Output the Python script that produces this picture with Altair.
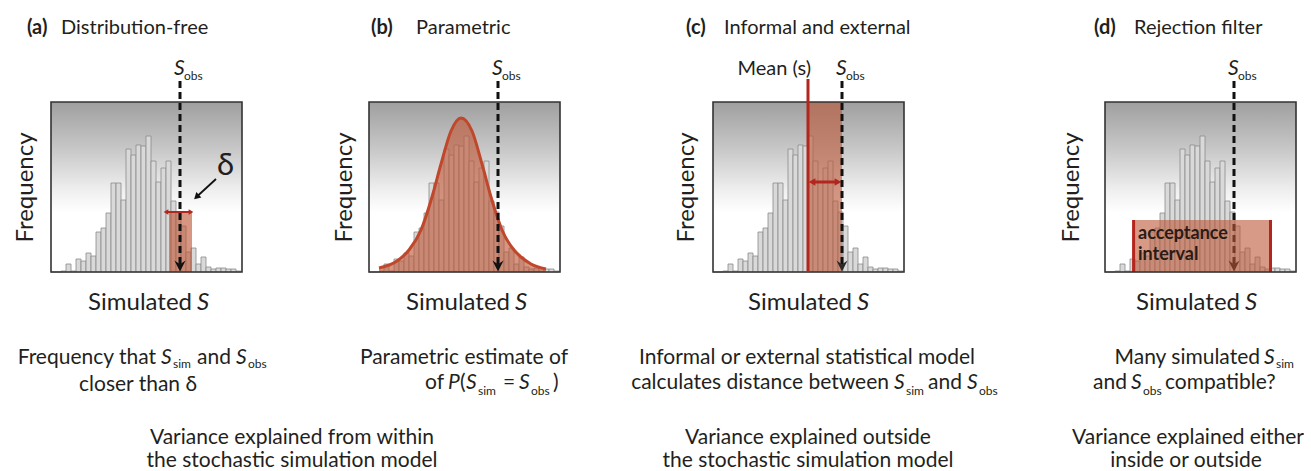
import altair as alt
import pandas as pd

FONT = "Lato"
INK = "#231f20"
RED = "#b3261e"
SHADE = "#bd5636"
BAR_FILL = "#d9d9d9"
BAR_LINE = "#8a8a8a"

PANEL_W, PANEL_H = 191, 170
GAPS = [127, 153, 201]

# ---- data ----
BIN_W = 5
hist_heights = [0, 0, 1, 8, 1, 13, 11, 19, 16, 40, 44, 59, 89, 89, 72, 123, 117, 127, 126, 136,
                111, 90, 104, 111, 71, 60, 46, 20, 24, 8, 15, 5, 3, 4, 4, 3, 3, 1]
bin_left = [BIN_W * i for i in range(len(hist_heights))]

S_OBS = 129
DELTA_LO, DELTA_HI, DELTA_TOP = 118, 141, 60
MEAN_S = 95
ACC_LO, ACC_HI, ACC_TOP = 27.4, 166.7, 52

curve_x = [10, 28, 40, 52, 63, 72, 82, 92, 103, 113, 122, 133, 145, 152, 162, 177]
curve_y = [4, 11, 22, 42, 75, 108, 141, 154, 141, 108, 75, 42, 22, 15, 8, 3]

TITLE_TAG = ["(a)", "(b)", "(c)", "(d)"]
TITLE_TAG_X = [-24, 2, -27, -11]
TITLE_NAME = ["Distribution-free", "Parametric", "Informal and external", "Rejection filter"]
TITLE_NAME_X = [10, 47, 11, 29]
SIM_CENTER = [96, 96, 94, 90]
YPAD = [14, 13, 15, 22]

XS = alt.Scale(domain=[0, PANEL_W], nice=False, zero=False)
YS = alt.Scale(domain=[0, PANEL_H], nice=False, zero=False)

hist_df = pd.DataFrame({"x0": bin_left, "h": hist_heights})
hist_df["x1"] = hist_df["x0"] + BIN_W
hist_df["b"] = 0

SUB = 12  # subscript offset after an italic S


def make_enc(ypad):
    yaxis = alt.Axis(title="Frequency", domain=False, ticks=False, labels=False, grid=False,
                     titleFont=FONT, titleFontSize=24, titleFontWeight="normal",
                     titleColor=INK, titlePadding=ypad)

    def X(f, **kw):
        return alt.X(f"{f}:Q", scale=XS, axis=None, **kw)

    def Y(f, **kw):
        return alt.Y(f"{f}:Q", scale=YS, axis=yaxis, **kw)

    return X, Y


def text_layer(X, Y, rows, size, style="normal", weight="normal", align="left", color=INK):
    df = pd.DataFrame(rows, columns=["t", "x", "y"])
    return alt.Chart(df).mark_text(font=FONT, fontSize=size, fontStyle=style, fontWeight=weight,
                                   align=align, baseline="alphabetic", color=color).encode(
        x=X("x"), y=Y("y"), text="t:N")


def common_base(X, Y):
    bg = alt.Chart(pd.DataFrame({"x0": [0], "x1": [PANEL_W], "y0": [0], "y1": [PANEL_H]})).mark_rect(
        fill=alt.Gradient(gradient="linear", x1=0, x2=0, y1=0, y2=1,
                          stops=[alt.GradientStop(offset=0, color="#9f9f9f"),
                                 alt.GradientStop(offset=0.28, color="#c8c8c8"),
                                 alt.GradientStop(offset=0.52, color="#efefef"),
                                 alt.GradientStop(offset=0.65, color="#ffffff"),
                                 alt.GradientStop(offset=1, color="#ffffff")])
    ).encode(x=X("x0"), x2=alt.X2("x1:Q"), y=Y("y0"), y2=alt.Y2("y1:Q"))
    bars = alt.Chart(hist_df).mark_rect(fill=BAR_FILL, stroke=BAR_LINE, strokeWidth=0.8).encode(
        x=X("x0"), x2=alt.X2("x1:Q"), y=Y("h"), y2=alt.Y2("b:Q"))
    return bg, bars


def border(X, Y):
    return alt.Chart(pd.DataFrame({"x0": [0], "x1": [PANEL_W], "y0": [0], "y1": [PANEL_H]})).mark_rect(
        filled=False, stroke="#333333", strokeWidth=1.6).encode(
        x=X("x0"), x2=alt.X2("x1:Q"), y=Y("y0"), y2=alt.Y2("y1:Q"))


def sobs_line(X, Y, head_color="#111111"):
    rule = alt.Chart(pd.DataFrame({"x": [S_OBS], "y0": [191], "y1": [8]})).mark_rule(
        color="#111111", strokeWidth=3, strokeDash=[7, 4]).encode(
        x=X("x"), y=Y("y0"), y2=alt.Y2("y1:Q"))
    head = alt.Chart(pd.DataFrame({"x": [S_OBS], "y": [6]})).mark_point(
        shape="M-1,-1L0,1L1,-1L0,-0.3Z", filled=True, fill=head_color, opacity=1,
        strokeWidth=0, size=125).encode(x=X("x"), y=Y("y"))
    return rule, head


def labels(i, X, Y):
    c = SIM_CENTER[i]
    return [
        text_layer(X, Y, [(TITLE_TAG[i], TITLE_TAG_X[i], 238)], 20, weight="bold"),
        text_layer(X, Y, [(TITLE_NAME[i], TITLE_NAME_X[i], 238)], 20),
        text_layer(X, Y, [("S", 123, 197)], 21, style="italic"),
        text_layer(X, Y, [("obs", 133, 192)], 12),
        text_layer(X, Y, [("Simulated", c + 45, -38)], 24, align="right"),
        text_layer(X, Y, [("S", c + 50, -38)], 24, style="italic"),
    ]


def hv_arrow(X, Y, x0, x1, y, width, head):
    line = alt.Chart(pd.DataFrame({"x0": [x0], "x1": [x1], "y": [y]})).mark_rule(
        color=RED, strokeWidth=width).encode(x=X("x0"), x2=alt.X2("x1:Q"), y=Y("y"))
    left = alt.Chart(pd.DataFrame({"x": [x0], "y": [y]})).mark_point(
        shape="triangle-left", filled=True, color=RED, opacity=1, size=head).encode(x=X("x"), y=Y("y"))
    right = alt.Chart(pd.DataFrame({"x": [x1], "y": [y]})).mark_point(
        shape="triangle-right", filled=True, color=RED, opacity=1, size=head).encode(x=X("x"), y=Y("y"))
    return [line, left, right]


# ---------------- panel a ----------------
X, Y = make_enc(YPAD[0])
bg, bars = common_base(X, Y)
anchor = alt.Chart(pd.DataFrame({"x": [-50], "y": [271]})).mark_point(opacity=0, size=1).encode(
    x=X("x"), y=Y("y"))
red_a = alt.Chart(pd.DataFrame({"x0": [DELTA_LO], "x1": [DELTA_HI], "y0": [0], "y1": [DELTA_TOP]})).mark_rect(
    fill=SHADE, opacity=0.62).encode(x=X("x0"), x2=alt.X2("x1:Q"), y=Y("y0"), y2=alt.Y2("y1:Q"))
rule_a, head_a = sobs_line(X, Y)
d_line = alt.Chart(pd.DataFrame({"x0": [165], "y0": [93], "x1": [146.5], "y1": [76]})).mark_rule(
    color="#111111", strokeWidth=1.8).encode(x=X("x0"), y=Y("y0"), x2=alt.X2("x1:Q"), y2=alt.Y2("y1:Q"))
d_head = alt.Chart(pd.DataFrame({"x": [145.5], "y": [75]})).mark_point(
    shape="triangle-up", angle=227, filled=True, color="#111111", opacity=1, size=55).encode(
    x=X("x"), y=Y("y"))
panel_a = alt.layer(
    anchor, bg, bars, red_a, border(X, Y), rule_a, head_a,
    *hv_arrow(X, Y, 115, 140, DELTA_TOP, 2, 30), d_line, d_head,
    text_layer(X, Y, [("δ", 166, 97)], 31),
    *labels(0, X, Y),
    text_layer(X, Y, [("Frequency that", 105, -92)], 21, align="right"),
    text_layer(X, Y, [("closer than δ", 87, -119),
                      ("Variance explained from within", 241, -172),
                      ("the stochastic simulation model", 241, -195)], 21, align="center"),
    text_layer(X, Y, [("S", 110, -92), ("S", 185, -92)], 21, style="italic"),
    text_layer(X, Y, [("and", 146, -92)], 21),
    text_layer(X, Y, [("sim", 110 + SUB, -96), ("obs", 185 + SUB, -96)], 12),
).properties(width=PANEL_W, height=PANEL_H)

# ---------------- panel b ----------------
X, Y = make_enc(YPAD[1])
bg, bars = common_base(X, Y)
curve_df = pd.DataFrame({"x": curve_x, "y": curve_y})
curve_df["b"] = 0
area_b = alt.Chart(curve_df).mark_area(interpolate="monotone", fill=SHADE, opacity=0.62).encode(
    x=X("x"), y=Y("y"), y2=alt.Y2("b:Q"))
line_b = alt.Chart(curve_df).mark_line(interpolate="monotone", color="#c0472b", strokeWidth=3).encode(
    x=X("x"), y=Y("y"))
rule_b, head_b = sobs_line(X, Y)
panel_b = alt.layer(
    bg, bars, area_b, line_b, border(X, Y), rule_b, head_b,
    *labels(1, X, Y),
    text_layer(X, Y, [("Parametric estimate of", 95, -92)], 21, align="center"),
    text_layer(X, Y, [("of", 75, -117)], 21, align="right"),
    text_layer(X, Y, [("(", 91, -117), ("=", 134, -117), (")", 184, -117)], 21),
    text_layer(X, Y, [("P", 79, -117), ("S", 97, -117), ("S", 150, -117)], 21, style="italic"),
    text_layer(X, Y, [("sim", 97 + SUB, -123), ("obs", 150 + SUB, -123)], 12),
).properties(width=PANEL_W, height=PANEL_H)

# ---------------- panel c ----------------
X, Y = make_enc(YPAD[2])
bg, bars = common_base(X, Y)
shade_c = alt.Chart(pd.DataFrame({"x0": [MEAN_S], "x1": [S_OBS], "y0": [0], "y1": [PANEL_H]})).mark_rect(
    fill=SHADE, opacity=0.6).encode(x=X("x0"), x2=alt.X2("x1:Q"), y=Y("y0"), y2=alt.Y2("y1:Q"))
mean_c = alt.Chart(pd.DataFrame({"x": [MEAN_S], "y0": [0], "y1": [193]})).mark_rule(
    color=RED, strokeWidth=3).encode(x=X("x"), y=Y("y0"), y2=alt.Y2("y1:Q"))
rule_c, head_c = sobs_line(X, Y, head_color="#2a2a2a")
panel_c = alt.layer(
    bg, bars, shade_c, border(X, Y), mean_c,
    *hv_arrow(X, Y, 99, 125, 90, 3, 60), rule_c, head_c,
    text_layer(X, Y, [("Mean (s)", 98, 197)], 20, align="right"),
    *labels(2, X, Y),
    text_layer(X, Y, [("Informal or external statistical model", 94, -92),
                      ("Variance explained outside", 95, -172),
                      ("the stochastic simulation model", 95, -195)], 21, align="center"),
    text_layer(X, Y, [("calculates distance between", 176, -117)], 21, align="right"),
    text_layer(X, Y, [("S", 181, -117), ("S", 254, -117)], 21, style="italic"),
    text_layer(X, Y, [("and", 215, -117)], 21),
    text_layer(X, Y, [("sim", 181 + SUB, -123), ("obs", 254 + SUB, -123)], 12),
).properties(width=PANEL_W, height=PANEL_H)

# ---------------- panel d ----------------
X, Y = make_enc(YPAD[3])
bg, bars = common_base(X, Y)
rule_d, head_d = sobs_line(X, Y)
acc = alt.Chart(pd.DataFrame({"x0": [ACC_LO], "x1": [ACC_HI], "y0": [0], "y1": [ACC_TOP]})).mark_rect(
    fill=SHADE, opacity=0.6).encode(x=X("x0"), x2=alt.X2("x1:Q"), y=Y("y0"), y2=alt.Y2("y1:Q"))
edges = alt.Chart(pd.DataFrame({"x": [ACC_LO + 1.2, ACC_HI - 1.2], "y0": [0, 0], "y1": [ACC_TOP, ACC_TOP]})).mark_rule(
    color=RED, strokeWidth=3).encode(x=X("x"), y=Y("y0"), y2=alt.Y2("y1:Q"))
panel_d = alt.layer(
    bg, bars, rule_d, head_d, acc, edges, border(X, Y),
    text_layer(X, Y, [("acceptance", 33, 33), ("interval", 33, 12)], 18, weight="bold", color="#2a1b15"),
    *labels(3, X, Y),
    text_layer(X, Y, [("Many simulated", 155, -92), ("and", 22, -117)], 21, align="right"),
    text_layer(X, Y, [("S", 159, -92), ("S", 26, -117)], 21, style="italic"),
    text_layer(X, Y, [("sim", 159 + SUB, -96), ("obs", 26 + SUB, -123)], 12),
    text_layer(X, Y, [("compatible?", 60, -117)], 21),
    text_layer(X, Y, [("Variance explained either", 83, -172),
                      ("inside or outside", 81, -195)], 21, align="center"),
).properties(width=PANEL_W, height=PANEL_H)


def spacer(w):
    return alt.Chart(pd.DataFrame({"v": [0]})).mark_point(opacity=0, size=1).encode(
        x=alt.value(0), y=alt.value(0)).properties(width=w, height=PANEL_H)


chart = alt.hconcat(panel_a, spacer(GAPS[0]), panel_b, spacer(GAPS[1]), panel_c, spacer(GAPS[2]), panel_d,
                    spacing=0, bounds="flush").properties(
    padding=0, background="white").configure_view(strokeWidth=0)

chart.save("out.html", embed_options={"renderer": "svg", "actions": False})
